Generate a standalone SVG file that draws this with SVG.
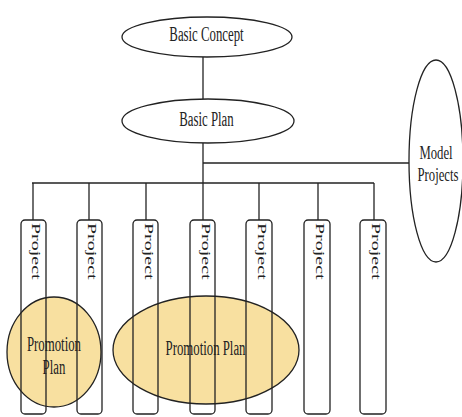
<svg xmlns="http://www.w3.org/2000/svg" width="462" height="417" viewBox="0 0 462 417">
<style>
.s{fill:#fff;stroke:#222;stroke-width:1.3}
.p{fill:#f8e0a0;stroke:#222;stroke-width:1.3}
.b{fill:none;stroke:#222;stroke-width:1.3}
.c{fill:none;stroke:#222;stroke-width:1.3}
text{font-family:"Liberation Serif","Times New Roman",serif;font-size:20px;fill:#222}
.m{text-anchor:middle}
.sm{font-size:19px}
</style>
<rect width="462" height="417" fill="#fff"/>
<g id="connectors">
<line class="c" x1="203" y1="57" x2="203" y2="99"/>
<line class="c" x1="203" y1="143" x2="203" y2="183"/>
<line class="c" x1="203" y1="163" x2="409" y2="163"/>
<line class="c" x1="32" y1="183" x2="374" y2="183"/>
<line class="c" x1="33" y1="183" x2="33" y2="220"/>
<line class="c" x1="89" y1="183" x2="89" y2="220"/>
<line class="c" x1="146" y1="183" x2="146" y2="220"/>
<line class="c" x1="203" y1="183" x2="203" y2="220"/>
<line class="c" x1="259" y1="183" x2="259" y2="220"/>
<line class="c" x1="318" y1="183" x2="318" y2="220"/>
<line class="c" x1="374" y1="183" x2="374" y2="220"/>
</g>
<g id="basic-concept">
<ellipse class="s" cx="207" cy="37" rx="85" ry="20"/>
<text class="m" transform="translate(206.5,40.5) scale(0.64,1)">Basic Concept</text>
</g>
<g id="basic-plan">
<ellipse class="s" cx="208" cy="121" rx="86" ry="22"/>
<text class="m" transform="translate(206.5,125.5) scale(0.64,1)">Basic Plan</text>
</g>
<g id="model-projects">
<ellipse class="s" cx="436" cy="161" rx="27" ry="101"/>
<text class="m sm" transform="translate(436,159) scale(0.67,1)">Model</text>
<text class="m sm" transform="translate(438,181) scale(0.67,1)">Projects</text>
</g>
<g id="promotion-plan-1">
<ellipse class="p" cx="54" cy="352" rx="47" ry="55"/>
<text class="m" transform="translate(54,351) scale(0.64,1)">Promotion</text>
<text class="m" transform="translate(54,374) scale(0.64,1)">Plan</text>
</g>
<g id="promotion-plan-2">
<ellipse class="p" cx="206" cy="350" rx="93" ry="54"/>
<text class="m" transform="translate(205.5,355) scale(0.64,1)">Promotion Plan</text>
</g>
<g id="project-1">
<rect class="b" x="21" y="220" width="25" height="194" rx="4"/>
<text transform="translate(32,223) scale(0.64,1) rotate(90)">Project</text>
</g>
<g id="project-2">
<rect class="b" x="77" y="220" width="25" height="194" rx="4"/>
<text transform="translate(88,223) scale(0.64,1) rotate(90)">Project</text>
</g>
<g id="project-3">
<rect class="b" x="133" y="220" width="25" height="194" rx="4"/>
<text transform="translate(144.5,223) scale(0.64,1) rotate(90)">Project</text>
</g>
<g id="project-4">
<rect class="b" x="190" y="220" width="25" height="194" rx="4"/>
<text transform="translate(201.5,223) scale(0.64,1) rotate(90)">Project</text>
</g>
<g id="project-5">
<rect class="b" x="246" y="220" width="26" height="194" rx="4"/>
<text transform="translate(258,223) scale(0.64,1) rotate(90)">Project</text>
</g>
<g id="project-6">
<rect class="b" x="304" y="220" width="26" height="194" rx="4"/>
<text transform="translate(316,223) scale(0.64,1) rotate(90)">Project</text>
</g>
<g id="project-7">
<rect class="b" x="360" y="220" width="26" height="194" rx="4"/>
<text transform="translate(372,223) scale(0.64,1) rotate(90)">Project</text>
</g>
</svg>
